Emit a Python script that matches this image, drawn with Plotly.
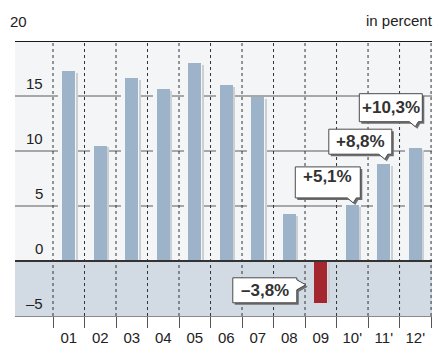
import plotly.graph_objects as go

# ---- data ----
years = ["01", "02", "03", "04", "05", "06", "07", "08", "09", "10'", "11'", "12'"]
growth = [17.3, 10.5, 16.6, 15.6, 18.0, 16.0, 14.9, 4.3, -3.8, 5.1, 8.8, 10.3]
callout_years = ["09", "10'", "11'", "12'"]
callout_text = ["–3,8%", "+5,1%", "+8,8%", "+10,3%"]
ytick_vals = [-5, 0, 5, 10, 15, 20]
ytick_text = ["–5", "0", "5", "10", "15", "20"]
unit_label = "in percent"

# ---- style ----
FONT = "Liberation Sans, Arial, sans-serif"
BLUE = "#9cb3c9"
RED = "#a4262f"
UPPER_BG = "#f4f5f7"
LOWER_BG = "#d2dae3"
TXT = "#222222"

bar_colors = [BLUE if v >= 0 else RED for v in growth]

fig = go.Figure()

# gap behind positive bars (breaks gridlines around bars)
fig.add_trace(go.Bar(
    x=years, y=[v if v > 0 else None for v in growth],
    width=0.62, offset=-0.33, marker=dict(color=UPPER_BG, line=dict(width=0)),
    hoverinfo="skip"))
# shadow stripe at the right of each bar
fig.add_trace(go.Bar(
    x=years, y=[v - 0.18 if v > 0 else v for v in growth],
    width=0.065, offset=0.225, marker=dict(color="#cdcfd2", line=dict(width=0)),
    hoverinfo="skip"))
# main bars
fig.add_trace(go.Bar(
    x=years, y=growth,
    width=0.41, offset=-0.21, marker=dict(color=bar_colors, line=dict(width=0))))

shapes = [
    dict(type="rect", xref="paper", x0=0, x1=1, yref="y", y0=-5, y1=0,
         fillcolor=LOWER_BG, line=dict(width=0), layer="below"),
    dict(type="line", xref="paper", x0=0, x1=1, yref="y", y0=0, y1=0,
         line=dict(color="#333333", width=2), layer="above"),
    dict(type="line", xref="paper", x0=0, x1=1, yref="y", y0=20, y1=20,
         line=dict(color="#1a1a1a", width=2), layer="above"),
]
# horizontal gridlines at the inner ticks, behind the bars
for v in ytick_vals:
    if 0 < v < ytick_vals[-1]:
        shapes.append(dict(type="line", xref="paper", x0=0, x1=1, yref="y",
                           y0=v, y1=v, line=dict(color="#5a5a5a", width=1),
                           layer="between"))
# dotted separators at the category boundaries
for i in range(len(years) + 1):
    shapes.append(dict(type="line", xref="x", x0=i - 0.5, x1=i - 0.5,
                       yref="paper", y0=0, y1=1,
                       line=dict(color="#333333", width=1, dash="dot"),
                       layer="between"))

annotations = []

# y tick labels (drawn inside the plot, above their gridline)
for v, t in zip(ytick_vals, ytick_text):
    if v == ytick_vals[-1]:
        annotations.append(dict(x=-0.0168, xref="paper", xanchor="left",
                                y=v, yref="y", yanchor="middle", yshift=20,
                                text=t, showarrow=False,
                                font=dict(family=FONT, size=15, color=TXT)))
    else:
        annotations.append(dict(x=0.071, xref="paper", xanchor="right",
                                y=v, yref="y", yanchor="middle", yshift=12.5,
                                text=t, showarrow=False,
                                font=dict(family=FONT, size=15, color=TXT)))

annotations.append(dict(x=1.008, xref="paper", xanchor="right",
                        y=1.0745, yref="paper", yanchor="middle",
                        text=unit_label, showarrow=False,
                        font=dict(family=FONT, size=15, color=TXT)))

# callouts: tip offset (dx, dy up), box size and text lift, in pixels
callout_style = {
    "09": dict(tip=(-15, 18), w=64, h=25, side="right", tdy=0),
    "10'": dict(tip=(1, 2), w=65, h=31, side="down", tdy=6),
    "11'": dict(tip=(1, 5), w=63, h=25, side="down", tdy=0),
    "12'": dict(tip=(0, 21), w=63, h=28, side="down", tdy=0),
}


def callout_path(st, sx=0, sy=0):
    tx, ty = st["tip"]
    w, h = st["w"], st["h"]
    if st["side"] == "down":
        right = tx + 7
        left = right - w
        bottom = ty + 5
        top = bottom + h
        pts = [(left, bottom), (tx - 6, bottom), (tx, ty), (tx + 3, bottom),
               (right, bottom), (right, top), (left, top)]
    else:
        right = tx - 9
        left = right - w
        top = ty + 7
        bottom = top - h
        pts = [(left, top), (right, top), (right, ty + 5), (tx, ty),
               (right, ty - 5), (right, bottom), (left, bottom)]
    p = "M " + " L ".join(f"{x + sx},{y + sy}" for x, y in pts) + " Z"
    return p, ((left + right) / 2, (top + bottom) / 2)


for cy, ct in zip(callout_years, callout_text):
    idx = years.index(cy)          # category index on the x axis
    val = growth[idx]
    st = callout_style[cy]
    shadow, _ = callout_path(st, 2, -2)
    body, (cx, cyc) = callout_path(st)
    common = dict(type="path", xref="x", yref="y", xsizemode="pixel",
                  ysizemode="pixel", xanchor=idx, yanchor=val,
                  layer="above")
    shapes.append(dict(path=shadow, fillcolor="#6e6e6e",
                       line=dict(width=0), **common))
    shapes.append(dict(path=body, fillcolor="white",
                       line=dict(color="#4a4a4a", width=1), **common))
    annotations.append(dict(x=idx, y=val, xref="x", yref="y",
                            xanchor="center", yanchor="middle",
                            xshift=cx, yshift=cyc + st["tdy"], showarrow=False,
                            text=f"<b>{ct}</b>",
                            font=dict(family=FONT, size=17, color="#333333")))

fig.update_layout(
    width=436, height=348,
    margin=dict(l=15, r=4, t=41, b=32, pad=0, autoexpand=False),
    paper_bgcolor="white", plot_bgcolor=UPPER_BG,
    barmode="overlay", bargap=0, showlegend=False,
    shapes=shapes, annotations=annotations,
    font=dict(family=FONT, color=TXT),
    xaxis=dict(type="category", categoryorder="array", categoryarray=years,
               range=[-1.706, 11.53], tickson="boundaries",
               ticks="outside", ticklen=11, tickcolor="#555555", tickwidth=1,
               showgrid=False,
               showline=True, linecolor="#8a8a8a", linewidth=1,
               ticklabelstandoff=8, automargin=False,
               zeroline=False, tickfont=dict(family=FONT, size=15, color=TXT),
               fixedrange=True),
    yaxis=dict(range=[-5, 20], showticklabels=False, showgrid=False,
               zeroline=False, ticks="", automargin=False, fixedrange=True),
)

fig.write_html("out.html", config=dict(displayModeBar=False))
